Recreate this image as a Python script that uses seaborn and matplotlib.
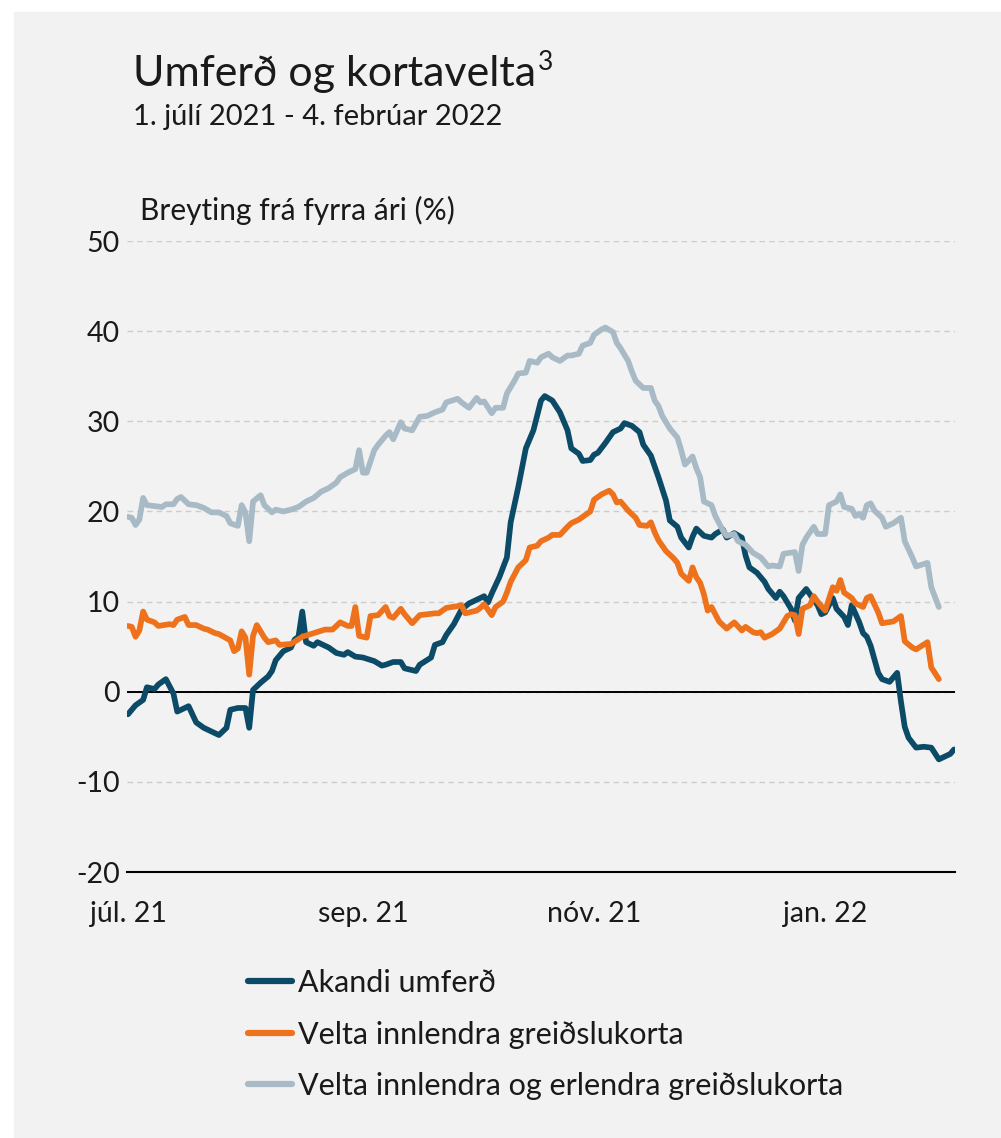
import matplotlib
matplotlib.use("Agg")
import pandas as pd
import seaborn as sns
import matplotlib.pyplot as plt
from matplotlib.lines import Line2D
from matplotlib.patches import Rectangle

START = pd.Timestamp("2021-07-01")
END = pd.Timestamp("2022-02-04")

SERIES = [
    "Akandi umferð",
    "Velta innlendra greiðslukorta",
    "Velta innlendra og erlendra greiðslukorta",
]
COLORS = ["#0b4b67", "#ee711b", "#a7bac6"]

TICK_DATES = ["2021-07-01", "2021-09-01", "2021-11-01", "2022-01-01"]
TICK_LABELS = ["júl. 21", "sep. 21", "nóv. 21", "jan. 22"]
Y_TICKS = [-20, -10, 0, 10, 20, 30, 40, 50]

# days after 1 July 2021 and values (% change from previous year)
umferd_days = [0, 2, 4, 5, 7, 8, 10, 12, 13, 16,
               18, 20, 22, 24, 26, 27, 29, 31, 32, 33,
               35, 37, 38, 39, 41, 43, 44, 45, 46, 47,
               49, 50, 53, 55, 57, 58, 60, 62, 65, 67,
               68, 70, 72, 73, 76, 77, 80, 81, 83, 84,
               86, 88, 90, 92, 94, 95, 96, 98, 100, 101,
               103, 105, 107, 109, 110, 112, 114, 116, 117, 119,
               120, 122, 123, 124, 126, 128, 130, 131, 133, 135,
               136, 138, 139, 140, 142, 143, 145, 146, 148, 149,
               150, 152, 154, 155, 157, 158, 160, 162, 163, 164,
               166, 168, 169, 171, 172, 173, 175, 176, 177, 179,
               180, 182, 183, 184, 186, 187, 189, 190, 191, 193,
               194, 195, 196, 198, 199, 201, 203, 204, 205, 206,
               208, 210, 212, 214, 215, 217, 218]
umferd_vals = [-2.5, -1.5, -0.9, 0.5, 0.3, 0.8, 1.4, -0.2, -2.2, -1.6,
               -3.4, -4.0, -4.4, -4.8, -4.0, -2.0, -1.8, -1.8, -4.0, 0.2,
               1.0, 1.7, 2.3, 3.5, 4.5, 4.9, 5.8, 6.1, 8.9, 5.5,
               5.1, 5.5, 4.9, 4.3, 4.1, 4.4, 3.9, 3.8, 3.4, 2.9,
               3.0, 3.3, 3.3, 2.6, 2.3, 3.0, 3.8, 5.2, 5.5, 6.3,
               7.5, 9.1, 9.8, 10.2, 10.6, 9.9, 10.9, 12.7, 14.9, 18.8,
               22.7, 27.0, 29.0, 32.3, 32.8, 32.3, 31.0, 29.0, 27.0, 26.4,
               25.6, 25.7, 26.3, 26.5, 27.6, 28.8, 29.2, 29.8, 29.5, 28.8,
               27.4, 26.2, 25.0, 23.8, 21.2, 19.0, 18.3, 17.1, 16.0, 17.2,
               18.1, 17.3, 17.1, 17.5, 18.0, 17.1, 17.6, 17.1, 15.1, 13.8,
               13.2, 12.2, 11.4, 10.4, 11.1, 10.6, 9.2, 7.9, 10.4, 11.4,
               10.8, 9.6, 8.6, 8.8, 10.4, 9.2, 8.3, 7.4, 9.6, 7.7,
               6.5, 6.1, 5.1, 2.1, 1.4, 1.1, 2.1, -1.1, -3.9, -5.1,
               -6.2, -6.1, -6.2, -7.5, -7.3, -6.9, -6.4]

innlend_days = [0, 1, 2, 3, 4, 5, 7, 8, 11, 12,
                13, 15, 16, 18, 20, 21, 23, 24, 27, 28,
                29, 30, 31, 32, 33, 34, 36, 37, 39, 40,
                43, 46, 49, 52, 54, 56, 58, 59, 60, 61,
                63, 64, 66, 68, 69, 70, 72, 73, 75, 77,
                79, 81, 82, 84, 87, 88, 89, 92, 93, 94,
                96, 97, 99, 100, 101, 103, 105, 106, 108, 109,
                111, 112, 114, 116, 117, 119, 121, 122, 123, 125,
                127, 128, 129, 130, 132, 134, 135, 137, 138, 139,
                140, 142, 144, 145, 146, 148, 149, 150, 151, 152,
                153, 154, 155, 156, 158, 160, 162, 163, 165, 166,
                167, 168, 170, 172, 174, 175, 176, 177, 178, 180,
                181, 182, 184, 186, 187, 188, 189, 191, 192, 194,
                195, 196, 198, 199, 202, 204, 205, 207, 208, 211,
                212, 214]
innlend_vals = [7.3, 7.2, 6.1, 6.8, 8.9, 8.0, 7.7, 7.3, 7.5, 7.4,
                8.0, 8.3, 7.4, 7.4, 7.0, 6.9, 6.5, 6.4, 5.7, 4.5,
                4.8, 6.7, 6.0, 1.9, 6.2, 7.4, 6.0, 5.5, 5.7, 5.2,
                5.3, 6.1, 6.5, 6.9, 6.9, 7.7, 7.3, 7.3, 9.4, 6.2,
                6.0, 8.4, 8.5, 9.4, 8.4, 8.2, 9.2, 8.6, 7.6, 8.5,
                8.6, 8.7, 8.7, 9.3, 9.5, 9.6, 8.7, 9.0, 9.3, 9.7,
                8.5, 9.4, 10.0, 11.0, 12.2, 13.8, 14.6, 16.0, 16.2, 16.7,
                17.1, 17.4, 17.4, 18.3, 18.7, 19.1, 19.7, 20.0, 21.3, 21.9,
                22.3, 21.9, 21.0, 21.1, 20.1, 19.3, 18.5, 18.4, 18.8, 17.7,
                16.8, 15.6, 14.8, 14.3, 13.1, 12.3, 13.8, 12.7, 12.1, 10.8,
                9.0, 9.4, 8.6, 7.8, 7.0, 7.7, 6.8, 7.2, 6.6, 6.5,
                6.6, 6.0, 6.4, 7.0, 8.4, 8.6, 8.5, 6.4, 9.2, 9.6,
                10.6, 10.0, 9.0, 11.6, 11.2, 12.4, 11.0, 10.4, 9.8, 9.4,
                10.4, 10.6, 8.8, 7.6, 7.8, 8.4, 5.6, 4.9, 4.7, 5.5,
                2.7, 1.4]

heild_days = [0, 1, 2, 3, 4, 5, 7, 9, 10, 12,
              13, 14, 16, 18, 20, 22, 24, 26, 27, 29,
              30, 31, 32, 33, 35, 36, 38, 39, 41, 43,
              45, 47, 49, 51, 53, 55, 56, 58, 60, 61,
              62, 63, 65, 66, 68, 69, 70, 72, 73, 75,
              77, 79, 81, 83, 84, 87, 88, 90, 92, 93,
              94, 96, 97, 99, 100, 102, 103, 105, 106, 108,
              109, 111, 112, 114, 116, 117, 119, 120, 122, 123,
              125, 126, 128, 129, 130, 132, 133, 134, 136, 138,
              139, 140, 141, 143, 145, 146, 147, 149, 150, 151,
              152, 154, 155, 157, 158, 160, 161, 163, 165, 167,
              169, 170, 172, 173, 176, 177, 178, 179, 181, 182,
              184, 185, 187, 188, 189, 191, 192, 193, 194, 195,
              196, 197, 199, 200, 202, 204, 205, 207, 208, 211,
              212, 214]
heild_vals = [19.4, 19.3, 18.5, 19.1, 21.5, 20.7, 20.6, 20.5, 20.8, 20.8,
              21.4, 21.6, 20.8, 20.7, 20.4, 19.9, 19.9, 19.5, 18.7, 18.4,
              20.7, 19.9, 16.7, 21.1, 21.8, 20.7, 19.9, 20.2, 20.0, 20.2,
              20.5, 21.1, 21.5, 22.2, 22.6, 23.2, 23.8, 24.3, 24.7, 26.8,
              24.3, 24.3, 26.8, 27.4, 28.4, 28.8, 28.0, 29.9, 29.2, 29.0,
              30.5, 30.6, 31.0, 31.3, 32.1, 32.5, 32.1, 31.5, 32.6, 32.1,
              32.2, 30.9, 31.5, 31.5, 33.1, 34.5, 35.3, 35.4, 36.7, 36.5,
              37.1, 37.5, 37.1, 36.7, 37.3, 37.3, 37.5, 38.4, 38.7, 39.6,
              40.2, 40.4, 39.9, 38.7, 38.1, 36.7, 35.5, 34.5, 33.7, 33.7,
              32.3, 31.7, 30.6, 29.2, 28.2, 26.8, 25.2, 26.1, 24.8, 23.8,
              21.1, 20.7, 19.5, 17.9, 17.3, 17.5, 16.7, 16.3, 15.4, 14.9,
              13.9, 14.0, 13.9, 15.3, 15.5, 13.4, 16.3, 17.1, 18.3, 17.5,
              17.5, 20.7, 21.1, 21.9, 20.5, 20.3, 19.5, 19.7, 19.3, 20.7,
              20.9, 20.1, 19.3, 18.3, 18.7, 19.3, 16.7, 14.9, 13.9, 14.3,
              11.6, 9.4]


def build_frame():
    frames = []
    for name, days, vals in zip(SERIES,
                                [umferd_days, innlend_days, heild_days],
                                [umferd_vals, innlend_vals, heild_vals]):
        assert len(days) == len(vals), name
        frames.append(pd.DataFrame({
            "date": START + pd.to_timedelta(days, unit="D"),
            "value": vals,
            "series": name,
        }))
    return pd.concat(frames, ignore_index=True)


def main():
    sns.set_style("white")
    plt.rcParams["font.family"] = ["Lato", "DejaVu Sans"]
    plt.rcParams["lines.solid_capstyle"] = "round"
    plt.rcParams["lines.solid_joinstyle"] = "round"

    bg = "#f2f2f2"
    text_color = "#1a1a1a"
    fig = plt.figure(figsize=(10.01, 11.38), dpi=100)
    fig.patches.append(Rectangle((14 / 1001, 0), 1, 1 - 12 / 1138,
                                 transform=fig.transFigure, color=bg, zorder=-10))
    ax = fig.add_axes([0.1269, 0.2337, 0.8271, 0.5545])
    ax.set_facecolor(bg)

    df = build_frame()
    sns.lineplot(data=df, x="date", y="value", hue="series", hue_order=SERIES,
                 palette=COLORS, linewidth=4.1, estimator=None, legend=False,
                 ax=ax, zorder=3)

    ax.axhline(0, color="black", linewidth=1.4, zorder=2)
    ax.set_ylim(-20, 50)
    ax.set_yticks(Y_TICKS)
    ax.set_yticklabels([str(v) for v in Y_TICKS])
    ax.set_xlim(START - pd.Timedelta(hours=6), END + pd.Timedelta(hours=6))
    ax.set_xticks(pd.to_datetime(TICK_DATES))
    ax.set_xticklabels(TICK_LABELS)
    ax.set_xlabel("")
    ax.set_ylabel("")

    ax.yaxis.grid(True, linestyle=(0, (4, 3)), color="#cccccc", linewidth=1)
    ax.xaxis.grid(False)
    for side in ["left", "right", "top"]:
        ax.spines[side].set_visible(False)
    ax.spines["bottom"].set_color("black")
    ax.spines["bottom"].set_linewidth(1.5)
    ax.tick_params(axis="y", length=0, pad=5, labelsize=20.5, labelcolor=text_color)
    ax.tick_params(axis="x", direction="out", length=6, width=1.5, color="black",
                   pad=15, labelsize=20.5, labelcolor=text_color)

    title = fig.text(133 / 1001, 1 - 86 / 1138, "Umferð og kortavelta", fontsize=31,
                     color=text_color, va="baseline", ha="left")
    fig.canvas.draw()
    bb = title.get_window_extent().transformed(fig.transFigure.inverted())
    fig.text(bb.x1 + 2 / 1001, 1 - 70 / 1138, "3", fontsize=19,
             color=text_color, va="baseline", ha="left")
    fig.text(133 / 1001, 1 - 125 / 1138, "1. júlí 2021 - 4. febrúar 2022",
             fontsize=21, color=text_color, va="baseline", ha="left")
    fig.text(140 / 1001, 1 - 220 / 1138, "Breyting frá fyrra ári (%)",
             fontsize=21.5, color=text_color, va="baseline", ha="left")

    handles = [Line2D([0], [0], color=c, linewidth=4.5, solid_capstyle="round")
               for c in COLORS]
    fig.legend(handles, SERIES, loc="upper left",
               bbox_to_anchor=(248 / 1001, 1 - 969 / 1138), frameon=False,
               fontsize=22, handlelength=1.44, handletextpad=0.18,
               labelspacing=0.77, borderpad=0, borderaxespad=0,
               labelcolor=text_color)

    fig.savefig("out.png", dpi=100, facecolor="white")


if __name__ == "__main__":
    main()
